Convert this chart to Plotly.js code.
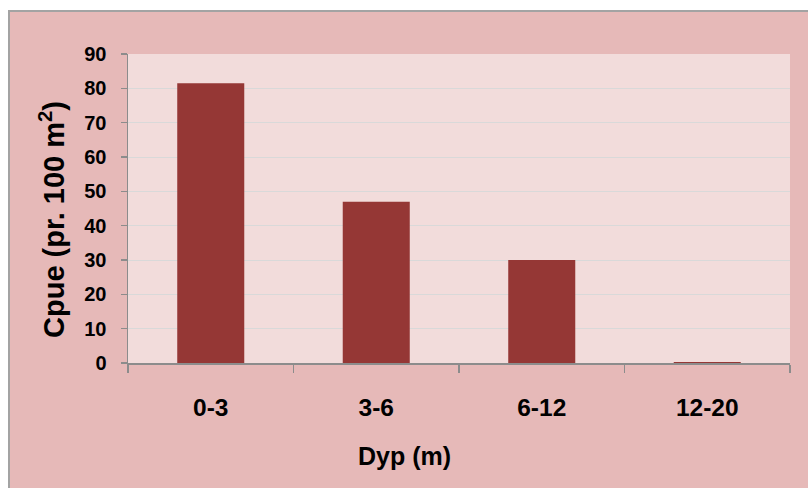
<!DOCTYPE html>
<html>
<head>
<meta charset="utf-8">
<script src="https://cdn.plot.ly/plotly-3.0.1.min.js"></script>
<style>
  html, body { margin:0; padding:0; background:#ffffff; overflow:hidden; width:808px; height:488px; }
  #frame { position:absolute; left:8px; top:10px; border:2px solid #a3a3a3; width:810px; height:490px; background:#e6b9b8; }
  #chart { width:810px; height:490px; }
</style>
</head>
<body>
<div id="frame"><div id="chart"></div></div>
<script>
const categories = ["0-3", "3-6", "6-12", "12-20"];
const cpueValues = [81.5, 47, 30, 0.3];
const yTickValues = [0, 10, 20, 30, 40, 50, 60, 70, 80, 90];
const xTitle = "Dyp (m)";
const yTitle = "Cpue (pr. 100 m<sup>2</sup>)";

const fontFamily = "Liberation Sans, Arial, sans-serif";

Plotly.newPlot("chart", [{
  type: "bar",
  x: categories,
  y: cpueValues,
  marker: { color: "#953735", line: { width: 0 } },
  hoverinfo: "none"
}], {
  width: 810,
  height: 490,
  margin: { l: 118, r: 30, t: 42, b: 139 },
  paper_bgcolor: "#e6b9b8",
  plot_bgcolor: "#f2dcdb",
  bargap: 0.595,
  showlegend: false,
  font: { family: fontFamily, color: "#000000" },
  xaxis: {
    type: "category",
    tickson: "boundaries",
    ticks: "outside",
    ticklen: 8,
    tickcolor: "#8c8c8c",
    tickwidth: 1.5,
    showline: true,
    linecolor: "#8c8c8c",
    linewidth: 1.5,
    showgrid: false,
    ticklabelstandoff: 22,
    tickfont: { family: fontFamily, size: 24.5, weight: "bold", color: "#000" }
  },
  yaxis: {
    range: [0, 90],
    tickvals: yTickValues,
    ticks: "outside",
    ticklen: 6,
    tickcolor: "#8c8c8c",
    tickwidth: 1.5,
    showline: true,
    linecolor: "#8c8c8c",
    linewidth: 1.5,
    showgrid: true,
    gridcolor: "#d9d9d9",
    gridwidth: 1,
    zeroline: false,
    ticklabelstandoff: 10,
    tickfont: { family: fontFamily, size: 20, weight: "bold", color: "#000" }
  },
  annotations: [
    {
      text: xTitle, xref: "paper", yref: "paper", x: 0.418, y: -0.30,
      xanchor: "center", yanchor: "middle", showarrow: false,
      font: { family: fontFamily, size: 25, weight: "bold", color: "#000" }
    },
    {
      text: yTitle, xref: "paper", yref: "paper", x: -0.1148, y: 0.463,
      xanchor: "center", yanchor: "middle", showarrow: false, textangle: -90,
      font: { family: fontFamily, size: 29, weight: "bold", color: "#000" }
    }
  ]
}, { staticPlot: true, displayModeBar: false });
</script>
</body>
</html>
